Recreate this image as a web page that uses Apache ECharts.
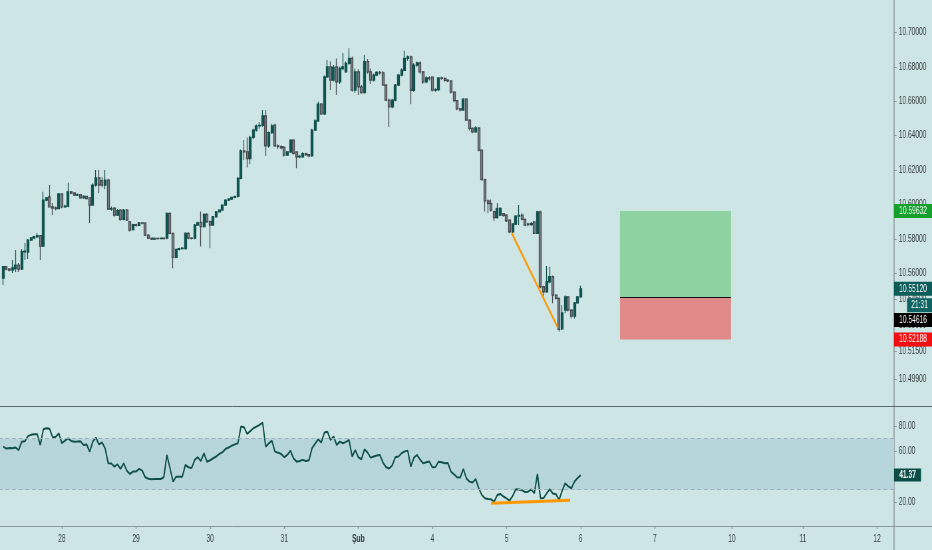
<!DOCTYPE html>
<html><head><meta charset="utf-8">
<script src="https://cdn.jsdelivr.net/npm/echarts@6/dist/echarts.min.js"></script>
<style>
html,body{margin:0;padding:0;background:#cde5e4;overflow:hidden;width:932px;height:550px;}
#c{width:1401px;height:550px;transform:scaleX(0.665239);transform-origin:0 0;}
</style>
</head><body><div id="c"></div>
<script>
// ---- data (hourly candles, slot index = hour position on the time axis) ----
const firstSlot = 1;
// [open, close, low, high]
const candles = [
[10.5575,10.5640,10.5534,10.5644],[10.5640,10.5627,10.5620,10.5645],[10.5627,10.5621,10.5612,10.5632],[10.5621,10.5633,10.5604,10.5679],
[10.5630,10.5650,10.5610,10.5737],[10.5650,10.5627,10.5610,10.5662],[10.5627,10.5727,10.5621,10.5743],[10.5727,10.5730,10.5679,10.5778],
[10.5725,10.5795,10.5685,10.5801],[10.5795,10.5807,10.5790,10.5812],[10.5807,10.5814,10.5800,10.5820],[10.5814,10.5820,10.5805,10.5836],
[10.5820,10.5760,10.5679,10.5825],[10.5760,10.6027,10.5755,10.6075],[10.6027,10.6039,10.6020,10.6045],[10.6046,10.5988,10.5985,10.6114],
[10.5988,10.5981,10.5940,10.6010],[10.5981,10.5978,10.5968,10.5990],[10.5978,10.6062,10.5975,10.6068],[10.6062,10.5988,10.5980,10.6065],
[10.5988,10.5992,10.5982,10.6000],[10.5992,10.6075,10.5985,10.6128],[10.6075,10.6068,10.6060,10.6080],[10.6068,10.6056,10.6050,10.6072],
[10.6056,10.6058,10.6050,10.6065],[10.6058,10.6040,10.6035,10.6062],[10.6040,10.6048,10.6035,10.6055],[10.6048,10.6035,10.6030,10.6052],
[10.6040,10.5998,10.5894,10.6042],[10.5998,10.6114,10.5995,10.6125],[10.6114,10.6155,10.6105,10.6201],[10.6155,10.6114,10.6068,10.6201],
[10.6140,10.6114,10.6100,10.6160],[10.6114,10.6143,10.6090,10.6201],[10.6143,10.5975,10.5970,10.6150],[10.5975,10.5977,10.5965,10.5990],
[10.5980,10.5940,10.5930,10.5985],[10.5940,10.5965,10.5935,10.5975],[10.5969,10.5915,10.5905,10.5975],[10.5915,10.5969,10.5910,10.5975],
[10.5969,10.5911,10.5905,10.5975],[10.5900,10.5853,10.5845,10.5905],[10.5856,10.5885,10.5850,10.5890],[10.5885,10.5880,10.5872,10.5890],
[10.5880,10.5895,10.5875,10.5900],[10.5895,10.5893,10.5885,10.5900],[10.5893,10.5824,10.5818,10.5898],[10.5824,10.5806,10.5800,10.5828],
[10.5806,10.5800,10.5795,10.5810],[10.5800,10.5805,10.5797,10.5810],[10.5805,10.5803,10.5798,10.5808],[10.5803,10.5806,10.5799,10.5810],
[10.5806,10.5804,10.5798,10.5810],[10.5806,10.5950,10.5800,10.5955],[10.5950,10.5834,10.5828,10.5955],[10.5834,10.5695,10.5631,10.5838],
[10.5695,10.5741,10.5690,10.5745],[10.5741,10.5745,10.5735,10.5750],[10.5745,10.5748,10.5740,10.5755],[10.5745,10.5834,10.5740,10.5840],
[10.5834,10.5806,10.5800,10.5840],[10.5806,10.5805,10.5798,10.5812],[10.5806,10.5882,10.5800,10.5888],[10.5882,10.5895,10.5878,10.5902],
[10.5898,10.5873,10.5757,10.5960],[10.5873,10.5944,10.5868,10.5950],[10.5944,10.5901,10.5895,10.5950],[10.5901,10.5882,10.5747,10.5910],
[10.5882,10.5930,10.5878,10.5935],[10.5930,10.5959,10.5925,10.5963],[10.5959,10.5969,10.5955,10.5973],[10.5969,10.5998,10.5965,10.6002],
[10.5998,10.6027,10.5995,10.6031],[10.6027,10.6033,10.6022,10.6037],[10.6033,10.6042,10.6028,10.6046],[10.6042,10.6048,10.6038,10.6052],
[10.6048,10.6153,10.6042,10.6160],[10.6153,10.6312,10.6148,10.6320],[10.6312,10.6306,10.6259,10.6375],[10.6306,10.6268,10.6216,10.6390],
[10.6268,10.6390,10.6235,10.6400],[10.6390,10.6433,10.6380,10.6440],[10.6433,10.6457,10.6425,10.6465],[10.6457,10.6460,10.6440,10.6480],
[10.6460,10.6515,10.6452,10.6549],[10.6515,10.6341,10.6283,10.6549],[10.6341,10.6418,10.6330,10.6425],[10.6418,10.6457,10.6410,10.6470],
[10.6462,10.6341,10.6335,10.6470],[10.6341,10.6337,10.6325,10.6350],[10.6337,10.6330,10.6320,10.6345],[10.6333,10.6288,10.6280,10.6340],
[10.6288,10.6306,10.6282,10.6312],[10.6306,10.6375,10.6300,10.6380],[10.6375,10.6298,10.6290,10.6380],[10.6306,10.6277,10.6211,10.6310],
[10.6277,10.6280,10.6270,10.6290],[10.6277,10.6296,10.6272,10.6305],[10.6296,10.6290,10.6282,10.6302],[10.6290,10.6283,10.6275,10.6296],
[10.6283,10.6433,10.6278,10.6440],[10.6433,10.6486,10.6428,10.6495],[10.6486,10.6583,10.6480,10.6597],[10.6583,10.6527,10.6520,10.6590],
[10.6527,10.6741,10.6520,10.6750],[10.6741,10.6799,10.6735,10.6839],[10.6799,10.6723,10.6665,10.6830],[10.6723,10.6797,10.6715,10.6810],
[10.6799,10.6712,10.6636,10.6848],[10.6712,10.6790,10.6700,10.6800],[10.6790,10.6800,10.6780,10.6880],[10.6771,10.6820,10.6765,10.6830],
[10.6820,10.6849,10.6810,10.6907],[10.6849,10.6665,10.6655,10.6860],[10.6665,10.6771,10.6650,10.6790],[10.6771,10.6684,10.6636,10.6785],
[10.6684,10.6650,10.6645,10.6695],[10.6650,10.6830,10.6645,10.6868],[10.6830,10.6771,10.6760,10.6845],[10.6771,10.6723,10.6700,10.6790],
[10.6723,10.6752,10.6715,10.6760],[10.6752,10.6768,10.6745,10.6775],[10.6768,10.6765,10.6755,10.6775],[10.6765,10.6694,10.6690,10.6775],
[10.6694,10.6607,10.6600,10.6700],[10.6607,10.6568,10.6451,10.6615],[10.6568,10.6607,10.6560,10.6615],[10.6607,10.6694,10.6600,10.6700],
[10.6694,10.6752,10.6690,10.6760],[10.6752,10.6780,10.6745,10.6790],[10.6780,10.6849,10.6775,10.6893],[10.6849,10.6858,10.6835,10.6865],
[10.6858,10.6664,10.6582,10.6865],[10.6664,10.6810,10.6655,10.6820],[10.6810,10.6822,10.6800,10.6830],[10.6822,10.6770,10.6760,10.6830],
[10.6770,10.6712,10.6700,10.6775],[10.6712,10.6735,10.6705,10.6745],[10.6735,10.6732,10.6720,10.6745],[10.6740,10.6665,10.6655,10.6745],
[10.6665,10.6668,10.6655,10.6675],[10.6668,10.6735,10.6660,10.6740],[10.6735,10.6733,10.6725,10.6742],[10.6733,10.6722,10.6715,10.6738],
[10.6722,10.6718,10.6710,10.6728],[10.6718,10.6653,10.6645,10.6722],[10.6653,10.6604,10.6595,10.6658],[10.6604,10.6556,10.6548,10.6608],
[10.6556,10.6550,10.6540,10.6562],[10.6549,10.6612,10.6545,10.6618],[10.6612,10.6491,10.6485,10.6618],[10.6491,10.6443,10.6430,10.6495],
[10.6443,10.6423,10.6415,10.6450],[10.6423,10.6445,10.6418,10.6455],[10.6445,10.6317,10.6310,10.6450],[10.6317,10.6146,10.6140,10.6320],
[10.6146,10.6022,10.5960,10.6150],[10.6022,10.6007,10.5950,10.6030],[10.6007,10.5969,10.5960,10.6030],[10.5960,10.5925,10.5905,10.5965],
[10.5925,10.5979,10.5920,10.6010],[10.5940,10.5979,10.5935,10.5985],[10.5948,10.5938,10.5930,10.5950],[10.5940,10.5907,10.5900,10.5945],
[10.5911,10.5843,10.5835,10.5915],[10.5843,10.5888,10.5835,10.5892],[10.5888,10.5934,10.5882,10.5940],[10.5934,10.5938,10.5882,10.5998],
[10.5940,10.5915,10.5910,10.5950],[10.5915,10.5882,10.5875,10.5920],[10.5888,10.5885,10.5875,10.5895],[10.5885,10.5890,10.5878,10.5900],
[10.5900,10.5834,10.5830,10.5905],[10.5834,10.5958,10.5830,10.5965],[10.5958,10.5524,10.5515,10.5965],[10.5524,10.5495,10.5457,10.5530],
[10.5495,10.5553,10.5490,10.5644],[10.5553,10.5582,10.5545,10.5640],[10.5582,10.5476,10.5428,10.5590],[10.5476,10.5457,10.5450,10.5480],
[10.5457,10.5277,10.5265,10.5462],[10.5280,10.5372,10.5273,10.5418],[10.5389,10.5465,10.5370,10.5475],[10.5465,10.5389,10.5380,10.5470],
[10.5389,10.5354,10.5340,10.5395],[10.5354,10.5430,10.5340,10.5435],[10.5430,10.5465,10.5425,10.5470],[10.5465,10.5512,10.5460,10.5530]
];
const rsi = [
63.7,62.2,62.6,62.5,63,61,67.5,68,72,73,73.5,73.5,65,77.4,78.2,77.8,71,71.5,74.2,66.4,
68.5,70.2,68.2,67.6,67.7,68,65,65.5,59.8,67.7,70.8,65.5,67,62.4,50.6,50.5,48,49.8,46.2,50.6,
44.9,42.2,44.1,44.1,46.2,44.9,39.6,38.5,38,38.2,38.3,38.3,39.6,57.2,46.7,36.2,40.1,40.1,40.1,49.3,
47.5,47,53.3,55.4,52.5,58.5,51.9,53,54.6,56,58,59.3,62,63,64.5,65.5,66.4,79.5,79,73.7,
76,78.2,79.5,80.8,82.6,63.7,66.3,68.5,59.8,59,58,55.4,57.2,60.6,54.6,51.9,52.4,53.3,52.4,53,
62.4,66,69.5,67,74.8,75.5,69,71.7,65.1,67.7,66.4,67.5,69,55.9,61.1,55.4,53.8,61.6,59,55.1,
56,56.7,57.2,51,47.5,46.5,49,55.4,56,58.5,60,60.6,48,55,57.2,53.5,50.6,51.5,52,47.5,
47.8,51.9,51.5,50.6,50.8,44.1,42,39.6,39.4,46.2,38.8,36.2,35.5,38.3,31,25.7,23.1,22.5,22.3,20.5,
25.7,26.5,24.5,23,21.3,25,30.2,30,29.5,28,28.3,30,27,42.2,23.1,23.3,27,30.2,26.8,26.3,
21.8,29,34.9,32.5,31,36.2,39,41.37
];
const dayTickSlots  = [20, 44, 68, 92, 116, 140, 164, 188, 212, 237, 260, 284];
const dayTickLabels = ['28','29','30','31','Şub','4','5','6','7','10','11','12'];
const priceTicks = [10.499, 10.515, 10.53, 10.545, 10.56, 10.58, 10.60, 10.62, 10.64, 10.66, 10.68, 10.70];
const rsiTicks = [20, 40, 60, 80];
const rsiBand = [30, 70];
const positionSlots = [200.75, 236.7];                 // long-position box, time span
const positionLevels = [10.59632, 10.54616, 10.52188];  // target, entry, stop
const priceTrend = [[165.7, 10.5834], [180.6, 10.5287]];
const rsiTrend = [[159, 19.2], [184.6, 21.5]];
const tagValues = [10.59632, 10.55120, 10.54616, 10.52188];
const lastRsi = 41.37;
const countdown = '21:31';

// ---- chart (drawn 1401 px wide, squeezed horizontally to 932 px like the reference) ----
const S = 932 / 1401;
const W = 1401;
const FONT = "'Liberation Sans',Arial,sans-serif";
const chart = echarts.init(document.getElementById('c'), null, {width: W, height: 550});
const xMin = -0.5, xMax = 301.8, axisEnd = 289.5;
const candleData = candles.map((c, i) => [firstSlot + i, c[0], c[1], c[2], c[3]]);
const rsiData = rsi.map((v, i) => [firstSlot + i, v]);
const axisColor = '#8b9798';
const txt = '#3a4042';
const axisOffset = -38 / S;

chart.setOption({
  backgroundColor: '#cde5e4',
  animation: false,
  grid: [
    {left: -1.4 / S, right: 0, top: 0, height: 406, containLabel: false, outerBoundsMode: 'none'},
    {left: -1.4 / S, right: 0, top: 406, height: 120, containLabel: false, outerBoundsMode: 'none'}
  ],
  xAxis: [
    {type: 'value', gridIndex: 0, min: xMin, max: xMax,
     axisLine: {show: true, onZero: false, lineStyle: {color: '#5f6668', width: 1}},
     axisTick: {show: false}, axisLabel: {show: false}, splitLine: {show: false}},
    {type: 'value', gridIndex: 1, min: xMin, max: xMax,
     axisLine: {show: true, onZero: false, lineStyle: {color: axisColor}},
     axisTick: {show: true, length: 3, customValues: dayTickSlots, lineStyle: {color: axisColor, width: 1.4}},
     axisLabel: {customValues: dayTickSlots, margin: 8, fontSize: 10, color: txt, fontFamily: FONT,
       formatter: v => { const t = dayTickLabels[dayTickSlots.indexOf(v)]; return t === 'Şub' ? '{b|' + t + '}' : t; },
       rich: {b: {fontWeight: 'bold', fontSize: 10, color: txt, fontFamily: FONT}}},
     splitLine: {show: false}}
  ],
  yAxis: [
    {type: 'value', gridIndex: 0, position: 'right', offset: axisOffset, min: 10.48324, max: 10.71874,
     axisLine: {show: true, onZero: false, lineStyle: {color: axisColor, width: 1.5}},
     axisTick: {show: true, length: 4, customValues: priceTicks, lineStyle: {color: axisColor}},
     axisLabel: {customValues: priceTicks, margin: 7, fontSize: 10, color: txt, fontFamily: FONT,
       formatter: v => v.toFixed(5)},
     splitLine: {show: false}},
    {type: 'value', gridIndex: 1, position: 'right', offset: axisOffset, min: 1.3, max: 95.7,
     axisLine: {show: true, onZero: false, lineStyle: {color: axisColor, width: 1.5}},
     axisTick: {show: true, length: 4, customValues: rsiTicks, lineStyle: {color: axisColor}},
     axisLabel: {customValues: rsiTicks, margin: 7, fontSize: 10, color: txt, fontFamily: FONT,
       formatter: v => v.toFixed(2)},
     splitLine: {show: false}}
  ],
  series: [
    {type: 'candlestick', xAxisIndex: 0, yAxisIndex: 0, data: candleData, barWidth: 3.5,
     itemStyle: {color: '#0c5853', color0: '#7d8188', borderColor: '#14524e', borderColor0: '#474b50', borderWidth: 1.3},
     markArea: {silent: true, data: [
       [{coord: [positionSlots[0], positionLevels[0]], itemStyle: {color: '#8dd2a0'}}, {coord: [positionSlots[1], positionLevels[1]]}],
       [{coord: [positionSlots[0], positionLevels[1]], itemStyle: {color: '#e08a89'}}, {coord: [positionSlots[1], positionLevels[2]]}]
     ]},
     markLine: {silent: true, symbol: ['none', 'none'], label: {show: false}, data: [
       [{coord: priceTrend[0], lineStyle: {color: '#ff9800', width: 2.4, type: 'solid'}}, {coord: priceTrend[1]}],
       [{coord: [positionSlots[0], positionLevels[1]], lineStyle: {color: '#111111', width: 1, type: 'solid'}}, {coord: [positionSlots[1], positionLevels[1]]}]
     ]}
    },
    {type: 'line', xAxisIndex: 1, yAxisIndex: 1, data: rsiData, symbol: 'none',
     lineStyle: {color: '#0f5049', width: 2},
     markArea: {silent: true, itemStyle: {color: '#b7d6dc'}, data: [
       [{coord: [xMin, rsiBand[0]]}, {coord: [axisEnd, rsiBand[1]]}]
     ]},
     markLine: {silent: true, symbol: ['none', 'none'], label: {show: false}, data: [
       [{coord: [xMin, rsiBand[1]], lineStyle: {color: '#a3b2b5', width: 1, type: [6, 4]}}, {coord: [axisEnd, rsiBand[1]]}],
       [{coord: [xMin, rsiBand[0]], lineStyle: {color: '#a3b2b5', width: 1, type: [6, 4]}}, {coord: [axisEnd, rsiBand[0]]}],
       [{coord: rsiTrend[0], lineStyle: {color: '#ff9800', width: 3, type: 'solid'}}, {coord: rsiTrend[1]}]
     ]}
    }
  ]
});

// ---- price tags on the scale ----
const gx = chart.convertToPixel({xAxisIndex: 0}, axisEnd);
const tagLook = [
  {bg: '#15a02c', dy: 0}, {bg: '#0b5b58', dy: 0}, {bg: '#000000', dy: 22.5}, {bg: '#f20f0f', dy: 0}
];
const els = [];
tagValues.forEach((v, i) => {
  const y = chart.convertToPixel({yAxisIndex: 0}, v) + tagLook[i].dy;
  els.push({type: 'rect', z: 100, shape: {x: gx, y: y - 7, width: W - gx, height: 14}, style: {fill: tagLook[i].bg}});
  els.push({type: 'text', z: 101, style: {text: v.toFixed(5), x: gx + (W - gx) / 2, y: y, align: 'center', verticalAlign: 'middle', fill: '#ffffff', font: '10px ' + FONT}});
});
const yLast = chart.convertToPixel({yAxisIndex: 0}, tagValues[1]) + 16.5;
els.push({type: 'rect', z: 100, shape: {x: 907 / S, y: yLast - 7, width: W - 907 / S, height: 14}, style: {fill: '#0f6461'}});
els.push({type: 'text', z: 101, style: {text: countdown, x: (907 / S + W) / 2, y: yLast, align: 'center', verticalAlign: 'middle', fill: '#ffffff', font: '10px ' + FONT}});
const yR = chart.convertToPixel({yAxisIndex: 1}, lastRsi);
els.push({type: 'rect', z: 100, shape: {x: gx, y: yR - 6.5, width: 27 / S, height: 13}, style: {fill: '#0a4d47'}});
els.push({type: 'text', z: 101, style: {text: lastRsi.toFixed(2), x: gx + 13.5 / S, y: yR, align: 'center', verticalAlign: 'middle', fill: '#ffffff', font: 'bold 10px ' + FONT}});
const yBottom = chart.convertToPixel({yAxisIndex: 1}, 1.3);
els.push({type: 'line', z: 50, shape: {x1: gx, y1: yBottom, x2: gx, y2: 550}, style: {stroke: axisColor, lineWidth: 1.5}});
chart.setOption({graphic: els});
</script>
</body></html>
